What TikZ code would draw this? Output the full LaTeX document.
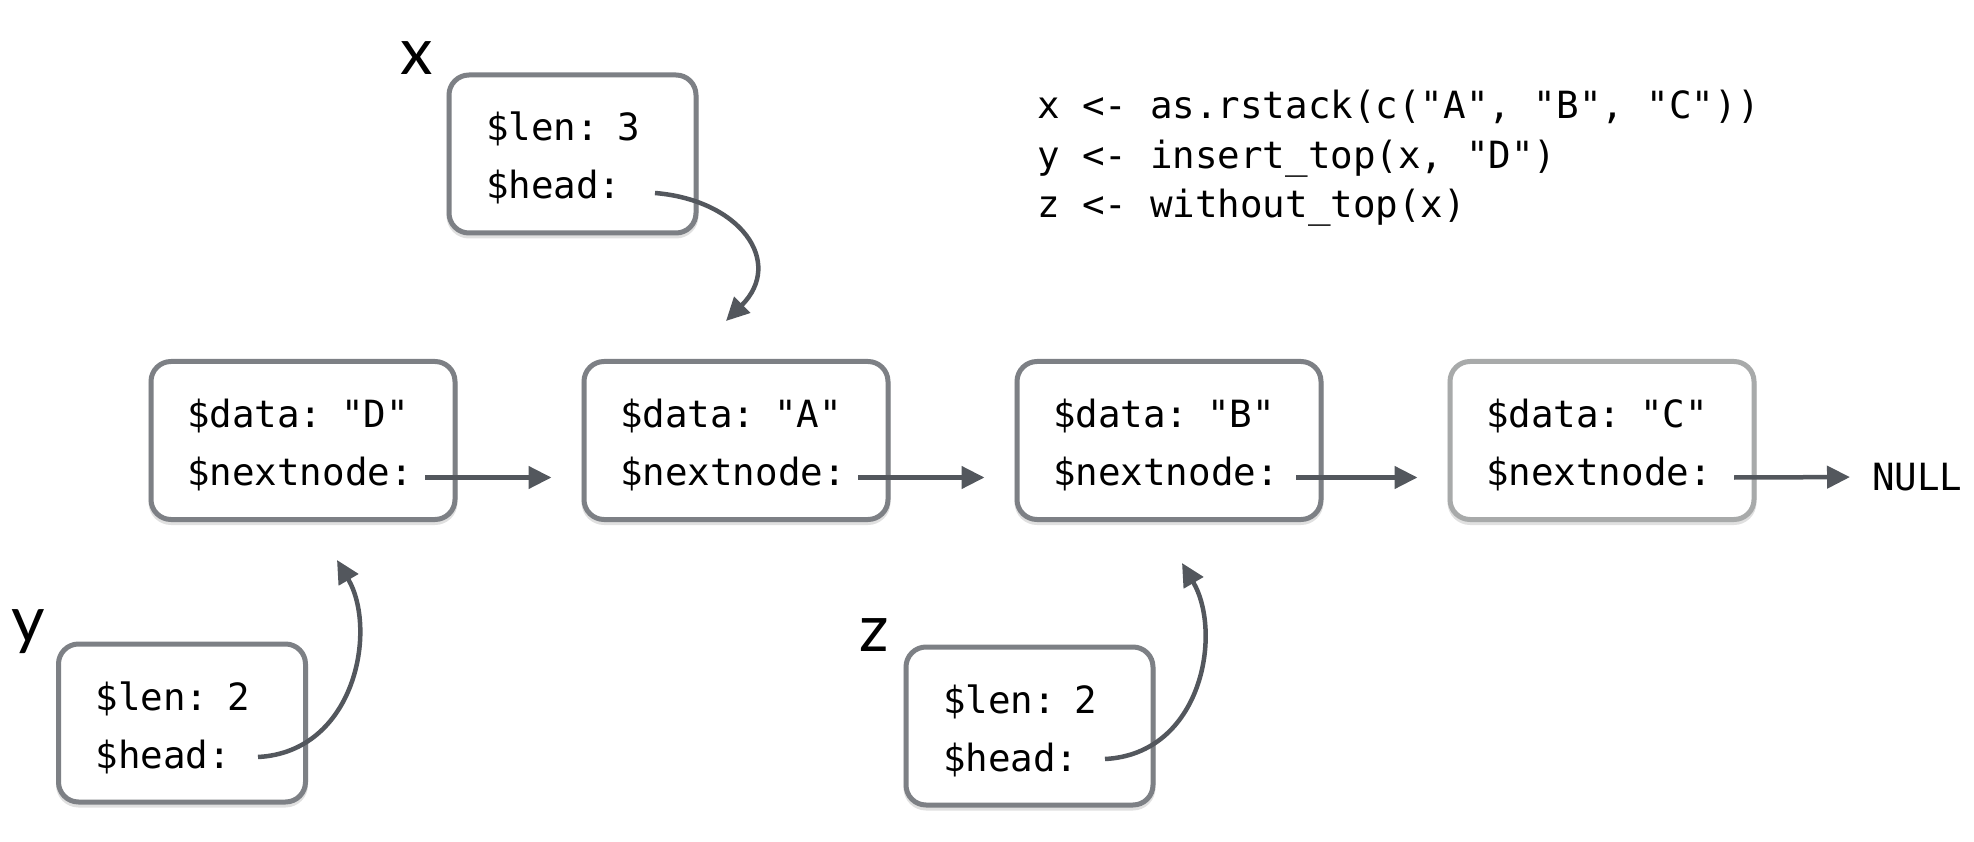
\documentclass[tikz,border=0pt]{standalone}
\usepackage{fontspec}
\usetikzlibrary{arrows.meta,calc,shadows}
\newfontfamily\monof{DejaVu Sans Mono}
\newfontfamily\labf{Lato}
\definecolor{boxgray}{RGB}{125,128,133}
\definecolor{paleboxgray}{RGB}{168,170,170}
\definecolor{arrgray}{RGB}{83,87,93}
\tikzset{
  cell/.style={draw=boxgray, line width=5pt, rounded corners=20pt, fill=white,
    align=left, inner xsep=36pt, inner ysep=0pt, minimum height=158pt,
    text height=28pt, text depth=54pt,
    font=\monof\fontsize{37.5}{58}\selectfont,
    general shadow={shadow xshift=0pt, shadow yshift=-3pt, draw=black!12, fill=black!12, line width=5pt}},
  widecell/.style={cell, text width=232pt},
  narrowcell/.style={cell, text width=173pt, inner xsep=37pt},
  arr/.style={draw=arrgray, line width=4.5pt, -{Triangle[length=23pt,width=22pt]}},
  varlab/.style={font=\labf\fontsize{65}{65}\selectfont, anchor=base, inner sep=0pt},
  codeline/.style={font=\monof\fontsize{37.5}{49.5}\selectfont, anchor=base west, inner sep=0pt}
}
\begin{document}
\begin{tikzpicture}[x=1pt,y=-1pt]
\useasboundingbox (0,0) rectangle (1974,842);
% list nodes
\node[widecell] (D) at (303,440.5) {\$data: "D"\\\$nextnode:};
\node[widecell] (A) at (736,440.5) {\$data: "A"\\\$nextnode:};
\node[widecell] (B) at (1169,440.5) {\$data: "B"\\\$nextnode:};
\node[widecell, draw=paleboxgray] (C) at (1602,440.5) {\$data: "C"\\\$nextnode:};
\node[font=\monof\fontsize{37.5}{40}\selectfont, anchor=west, inner sep=0pt] (null) at (1872,477) {NULL};
% stack heads
\node[narrowcell] (x) at (572.5,154) {\$len: 3\\\$head:};
\node[narrowcell] (y) at (182,723) {\$len: 2\\\$head:};
\node[narrowcell] (z) at (1029.5,726) {\$len: 2\\\$head:};
% labels
\node[varlab] (xl) at (417,75) {x};
\node[varlab] (yl) at (28,642) {y};
\node[varlab] (zl) at (874,651) {z};
% code
\node[codeline] (c1) at (1037,119) {x <- as.rstack(c("A", "B", "C"))};
\node[codeline] (c2) at (1037,169) {y <- insert\_top(x, "D")};
\node[codeline] (c3) at (1037,218) {z <- without\_top(x)};
% straight arrows
\coordinate (Dp) at ($(D.center)+(122,37)$);
\coordinate (Ap) at ($(A.center)+(122,37)$);
\coordinate (Bp) at ($(B.center)+(127,37)$);
\coordinate (Cp) at ($(C.center)+(132,37)$);
\draw[arr, shorten >=30pt] (Dp) -- (Dp -| A.west);
\draw[arr, shorten >=30pt] (Ap) -- (Ap -| B.west);
\draw[arr, shorten >=30pt] (Bp) -- (Bp -| C.west);
\draw[arr, shorten >=22pt] (Cp) -- (null.west);
% curved arrows
\coordinate (Xp) at ($(x.center)+(82.5,39)$);
\coordinate (Xt) at ($(A.north)+(-10,-38)$);
\draw[arr] (Xp) .. controls +(85,7) and +(59,-59) .. (Xt);
\coordinate (Yp) at ($(y.center)+(76,34)$);
\coordinate (Yt) at ($(D.south)+(34,38)$);
\draw[arr] (Yp) .. controls +(97,-5) and +(41,70) .. (Yt);
\coordinate (Zp) at ($(z.center)+(75.5,33)$);
\coordinate (Zt) at ($(B.south)+(13,41)$);
\draw[arr] (Zp) .. controls +(97,-5) and +(41,70) .. (Zt);
\end{tikzpicture}
\end{document}
